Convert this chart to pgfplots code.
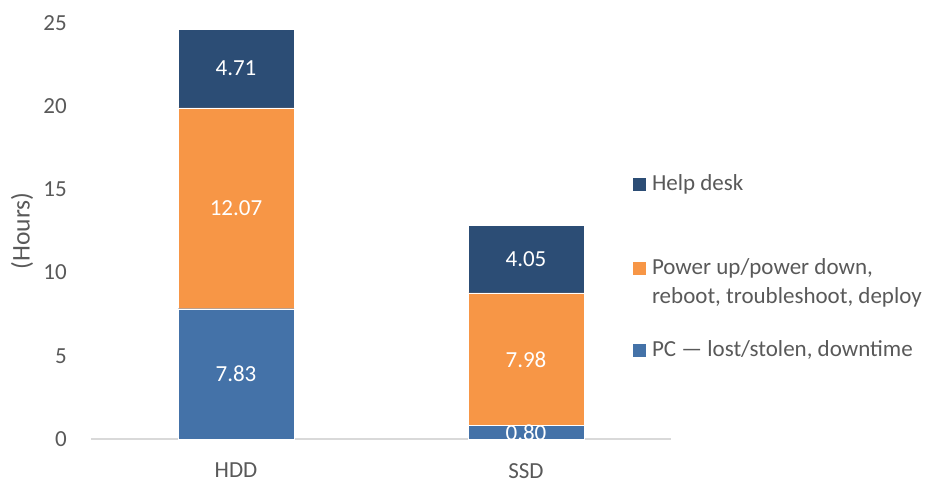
\documentclass[border=0pt]{standalone}
\usepackage{fontspec}
\setmainfont{Carlito}
\usepackage{pgfplots}
\pgfplotsset{compat=1.18}

\definecolor{helpdesk}{HTML}{2C4D75}
\definecolor{powerup}{HTML}{F79646}
\definecolor{pclost}{HTML}{4472A8}
\definecolor{txtgray}{HTML}{595959}
\definecolor{axgray}{HTML}{D9D9D9}

\newcommand{\bigfont}{\fontsize{23}{29}\selectfont}

% square legend key sitting on the text baseline
\pgfplotsset{
  sqlegend/.style={legend image code/.code={
    \fill[##1, draw=none] (0pt,0pt) rectangle (13pt,13pt);}},
  samebox/.style={at={(0pt,0pt)}, anchor=south west,
    scale only axis, width=580pt, height=416pt,
    xmin=-0.5, xmax=1.5, ymin=0, ymax=25, clip=false},
}

\begin{document}
\begin{tikzpicture}
\path[use as bounding box] (-91pt,-41pt) rectangle (848pt,439pt);
\begin{axis}[
    samebox,
    ybar stacked, bar width=116pt,
    xtick={0,1}, xticklabels={HDD,SSD},
    ytick={0,5,10,15,20,25},
    axis x line*=bottom, axis y line*=left,
    x axis line style={axgray, line width=1.5pt, -},
    y axis line style={draw=none},
    major tick length=0pt,
    tick label style={font=\bigfont, text=txtgray},
    /pgf/number format/assume math mode=true,
    xticklabel style={anchor=north, inner sep=0pt, yshift=-24pt},
    yticklabel style={anchor=east, inner sep=0pt, xshift=-24pt},
    ylabel={(Hours)},
    every axis y label/.style={at={(axis description cs:-0.119,0.5)}, rotate=90, anchor=center,
      font=\fontsize{25.5}{30}\selectfont, text=txtgray},
    legend style={at={(axis description cs:0.9345,0.6354)}, anchor=north west,
      draw=none, fill=none, inner sep=0pt, outer sep=0pt,
      row sep=24pt, column sep=6pt,
      cells={anchor=base west},
      nodes={inner sep=0pt, text depth=, text=txtgray, font=\bigfont}},
    reverse legend,
]
\addplot[fill=pclost, draw=white, line width=0.4pt, sqlegend] coordinates {(0,7.83) (1,0.80)};
\addlegendentry{\strut PC --- lost/stolen, downtime}
\addplot[fill=powerup, draw=white, line width=0.4pt, sqlegend] coordinates {(0,12.07) (1,7.98)};
\addlegendentry{\begin{tabular}[t]{@{}l@{}}Power up/power down,\\reboot, troubleshoot, deploy\end{tabular}}
\addplot[fill=helpdesk, draw=white, line width=0.4pt, sqlegend] coordinates {(0,4.71) (1,4.05)};
\addlegendentry{\rule[-39.7pt]{0pt}{20.3pt}Help desk}
\end{axis}

% value labels, each at the middle of its segment
\begin{axis}[samebox, hide axis]
\addplot[draw=none, mark=none, nodes near coords, point meta=explicit symbolic,
  nodes near coords style={font=\bigfont, text=white, anchor=center, inner sep=0pt}]
  coordinates {
    (0,3.915) [7.83] (0,13.865) [12.07] (0,22.255) [4.71]
    (1,0.40) [0.80] (1,4.79) [7.98] (1,10.805) [4.05]
  };
\end{axis}
\end{tikzpicture}
\end{document}
